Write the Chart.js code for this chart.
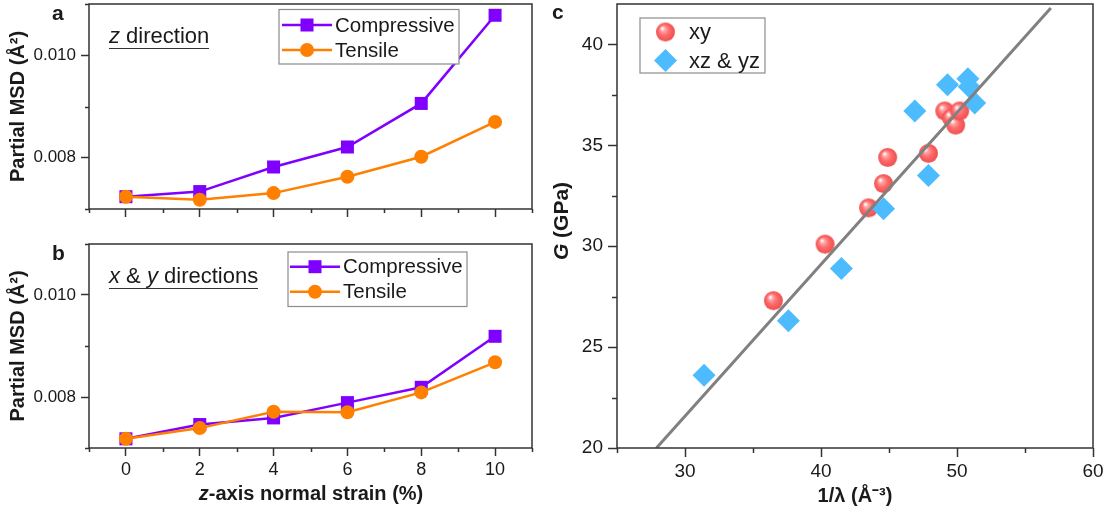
<!DOCTYPE html>
<html>
<head>
<meta charset="utf-8">
<script src="https://cdn.jsdelivr.net/npm/chart.js@4.4.1/dist/chart.umd.min.js"></script>
<style>
  body { margin: 0; background: #fff; }
  #wrap { position: relative; width: 1112px; height: 508px; overflow: hidden;
          font-family: 'Liberation Sans', Arial, sans-serif; color: #1a1a1a; }
  canvas { position: absolute; }
  .lbl { position: absolute; white-space: nowrap; line-height: 1; }
  .ul { border-bottom: 1.5px solid #333; padding-bottom: 0.6px; }
</style>
</head>
<body>
<div id="wrap">
  <canvas id="chartA" width="545" height="232" style="left:0;top:0;width:545px;height:232px"></canvas>
  <canvas id="chartB" width="545" height="276" style="left:0;top:232px;width:545px;height:276px"></canvas>
  <canvas id="chartC" width="567" height="508" style="left:545px;top:0;width:567px;height:508px"></canvas>

  <div class="lbl" style="left:52px;top:2px;font-weight:bold;font-size:21px">a</div>
  <div class="lbl" style="left:52px;top:242px;font-weight:bold;font-size:21px">b</div>
  <div class="lbl" style="left:552px;top:1px;font-weight:bold;font-size:21px">c</div>

  <div class="lbl ul" style="left:109px;top:25px;font-size:22px"><i>z</i> direction</div>
  <div class="lbl ul" style="left:109px;top:265px;font-size:22px"><i>x</i> &amp; <i>y</i> directions</div>

  <div class="lbl" style="left:111px;top:481px;width:400px;text-align:center;line-height:24px;font-weight:bold;font-size:20px"><i>z</i>-axis normal strain (%)</div>
  <div class="lbl" style="left:461px;top:209px;width:200px;text-align:center;line-height:24px;font-weight:bold;font-size:21px;transform:rotate(-90deg)"><i>G</i> (GPa)</div>
</div>

<script>
// panels a, b: partial MSD vs z-axis strain
const strain = [0, 2, 4, 6, 8, 10];
const strainTicks = [0, 2, 4, 6, 8, 10];
const strainMinor = [-1, 1, 3, 5, 7, 9, 11];
const msdTicks = [0.008, 0.010];
const msdMinor = [0.007, 0.009, 0.011];

const zCompressive = [0.00724, 0.00734, 0.00782, 0.00821, 0.00906, 0.01078];
const zTensile     = [0.00724, 0.00718, 0.00731, 0.00763, 0.00802, 0.00870];
const xyCompressive = [0.00718, 0.00746, 0.00759, 0.00789, 0.00819, 0.00919];
const xyTensile     = [0.00718, 0.00739, 0.00771, 0.00770, 0.00809, 0.00868];

// panel c: G vs 1/lambda
const xyInvLambda = [36.5, 40.3, 43.5, 44.6, 44.9, 47.9, 49.1, 49.6, 49.9, 50.2];
const xyG         = [27.3, 30.1, 31.9, 33.1, 34.4, 34.6, 36.7, 36.35, 36.0, 36.7];
const xzInvLambda = [31.4, 37.6, 41.5, 44.6, 47.9, 46.9, 49.3, 50.8, 50.9, 51.3];
const xzG         = [23.6, 26.3, 28.9, 31.85, 33.5, 36.7, 38.0, 38.3, 37.9, 37.1];
const fitInvLambda = [27.9, 56.9];
const fitG         = [20, 41.8];
const lambdaTicks = [30, 40, 50, 60];
const lambdaMinor = [25, 35, 45, 55];
const gTicks = [20, 25, 30, 35, 40];
const gMinor = [22.5, 27.5, 32.5, 37.5];

const purple = '#8000ff';
const orange = '#ff8000';
const blue = '#4cbcff';
const axisColor = '#333';

Chart.defaults.font.family = "'Liberation Sans', Arial, sans-serif";
Chart.defaults.color = '#1a1a1a';

const pts = (xs, ys) => xs.map((x, i) => ({ x, y: ys[i] }));

function makeSphere(r) {
  const s = Math.ceil(r * 2) + 2;
  const c = document.createElement('canvas');
  c.width = c.height = s;
  const g = c.getContext('2d');
  const m = s / 2;
  const grad = g.createRadialGradient(m - r * 0.35, m - r * 0.4, r * 0.05, m, m, r);
  grad.addColorStop(0, '#ffffff');
  grad.addColorStop(0.22, '#ffa3a3');
  grad.addColorStop(0.55, '#ff6a6a');
  grad.addColorStop(1, '#ec5050');
  g.fillStyle = grad;
  g.beginPath();
  g.arc(m, m, r, 0, Math.PI * 2);
  g.fill();
  return c;
}
const sphere = makeSphere(9.5);

function drawMarker(ctx, ds, x, y) {
  const r = ds.pointRadius;
  ctx.fillStyle = ds.backgroundColor;
  if (ds.pointStyle instanceof HTMLCanvasElement) {
    ctx.drawImage(ds.pointStyle, x - ds.pointStyle.width / 2, y - ds.pointStyle.height / 2);
    return;
  }
  ctx.beginPath();
  if (ds.pointStyle === 'rect') {
    const h = r * Math.SQRT1_2;
    ctx.rect(x - h, y - h, 2 * h, 2 * h);
  } else if (ds.pointStyle === 'rectRot') {
    ctx.moveTo(x - r, y); ctx.lineTo(x, y - r); ctx.lineTo(x + r, y); ctx.lineTo(x, y + r); ctx.closePath();
  } else {
    ctx.arc(x, y, r, 0, Math.PI * 2);
  }
  ctx.fill();
}

// frame round the plot area + short minor ticks
const frame = {
  id: 'frame',
  afterDraw(chart, args, o) {
    const { ctx, chartArea: a, scales } = chart;
    ctx.save();
    ctx.strokeStyle = axisColor;
    ctx.lineWidth = 1.5;
    ctx.beginPath();
    (o.minorX || []).forEach(v => {
      const px = Math.round(scales.x.getPixelForValue(v)) + 0.5;
      ctx.moveTo(px, a.bottom); ctx.lineTo(px, a.bottom + o.len);
    });
    (o.minorY || []).forEach(v => {
      const py = Math.round(scales.y.getPixelForValue(v)) + 0.5;
      ctx.moveTo(a.left - o.len, py); ctx.lineTo(a.left, py);
    });
    ctx.stroke();
    ctx.strokeRect(a.left, a.top, a.right - a.left, a.bottom - a.top);
    ctx.restore();
  }
};

const boxLegend = {
  id: 'boxLegend',
  afterDraw(chart, args, o) {
    const ctx = chart.ctx;
    ctx.save();
    ctx.fillStyle = '#fff';
    ctx.fillRect(o.x, o.y, o.w, o.h);
    ctx.strokeStyle = '#8c8c8c';
    ctx.lineWidth = 1.2;
    ctx.strokeRect(o.x, o.y, o.w, o.h);
    o.items.forEach(it => {
      const ds = chart.data.datasets[it.ds];
      if (o.lineX0 !== undefined) {
        ctx.strokeStyle = ds.borderColor;
        ctx.lineWidth = ds.borderWidth;
        ctx.beginPath();
        ctx.moveTo(o.lineX0, it.y); ctx.lineTo(o.lineX1, it.y);
        ctx.stroke();
      }
      drawMarker(ctx, ds, o.markX, it.y);
      ctx.fillStyle = '#1a1a1a';
      ctx.font = o.font;
      ctx.textBaseline = 'middle';
      ctx.fillText(ds.label, o.textX, it.y + 1);
    });
    ctx.restore();
  }
};

const gridOpts = (len) => ({
  display: true, drawOnChartArea: false, drawTicks: true,
  tickLength: len, tickWidth: 1.5, tickColor: axisColor
});

// fixed axis box, no extra room for overhanging labels
const fixBox = (w, h) => s => {
  if (w !== null) s.width = w;
  if (h !== null) s.height = h;
  s.paddingTop = s.paddingBottom = s.paddingLeft = s.paddingRight = 0;
};

function strainChart(id, comp, tens, cfg) {
  return new Chart(document.getElementById(id), {
    type: 'scatter',
    data: {
      datasets: [
        { label: 'Compressive', data: pts(strain, comp), showLine: true,
          borderColor: purple, backgroundColor: purple, borderWidth: 2.5,
          pointStyle: 'rect', pointRadius: 9.2, pointBorderWidth: 0, order: 1 },
        { label: 'Tensile', data: pts(strain, tens), showLine: true,
          borderColor: orange, backgroundColor: orange, borderWidth: 2.5,
          pointStyle: 'circle', pointRadius: 7, pointBorderWidth: 0, order: 0 }
      ]
    },
    options: {
      responsive: false, animation: false, events: [],
      layout: { autoPadding: false, padding: { left: 0, right: 13, top: cfg.top, bottom: 0 } },
      plugins: {
        legend: { display: false }, tooltip: { enabled: false },
        frame: { minorX: strainMinor, minorY: msdMinor, len: 4 },
        boxLegend: cfg.legend
      },
      scales: {
        x: {
          type: 'linear', min: -1, max: 11,
          afterBuildTicks: s => { s.ticks = strainTicks.map(v => ({ value: v })); },
          afterFit: fixBox(null, cfg.xh),
          grid: gridOpts(8), border: { display: false },
          ticks: { display: cfg.showX, autoSkip: false, font: { size: 18 }, padding: 3, callback: v => String(v) }
        },
        y: {
          min: 0.007, max: 0.011,
          afterBuildTicks: s => { s.ticks = msdTicks.map(v => ({ value: v })); },
          afterFit: fixBox(89, null),
          grid: gridOpts(8), border: { display: false },
          ticks: { font: { size: 17 }, padding: 5, callback: v => v.toFixed(3) },
          title: { display: true, text: 'Partial MSD (Å²)', color: '#1a1a1a',
                   font: { size: 20, weight: 'bold' }, padding: { top: 6.5, bottom: 0 } }
        }
      }
    },
    plugins: [frame, boxLegend]
  });
}

strainChart('chartA', zCompressive, zTensile, {
  top: 4, xh: 23, showX: false,
  legend: { x: 279, y: 9.5, w: 180, h: 54.5, lineX0: 282, lineX1: 332, markX: 307, textX: 335,
            font: "20.5px 'Liberation Sans', Arial, sans-serif", items: [{ ds: 0, y: 25 }, { ds: 1, y: 50 }] }
});

strainChart('chartB', xyCompressive, xyTensile, {
  top: 12, xh: 60, showX: true,
  legend: { x: 288, y: 20, w: 179, h: 54.5, lineX0: 290, lineX1: 340, markX: 315, textX: 343,
            font: "20.5px 'Liberation Sans', Arial, sans-serif", items: [{ ds: 0, y: 34.7 }, { ds: 1, y: 59.7 }] }
});

new Chart(document.getElementById('chartC'), {
  type: 'scatter',
  data: {
    datasets: [
      { label: 'xy', data: pts(xyInvLambda, xyG), backgroundColor: '#ff6a6a',
        pointStyle: sphere, pointRadius: 9.5, order: 2 },
      { label: 'xz & yz', data: pts(xzInvLambda, xzG), backgroundColor: blue,
        pointStyle: 'rectRot', pointRadius: 11.5, pointBorderWidth: 0, order: 1 },
      { label: 'fit', data: pts(fitInvLambda, fitG), showLine: true, borderColor: '#808080',
        borderWidth: 3, pointRadius: 0, order: 0 }
    ]
  },
  options: {
    responsive: false, animation: false, events: [],
    layout: { autoPadding: false, padding: { left: 0, right: 19, top: 4, bottom: 0 } },
    plugins: {
      legend: { display: false }, tooltip: { enabled: false },
      frame: { minorX: lambdaMinor, minorY: gMinor, len: 5 },
      boxLegend: { x: 95, y: 18, w: 125, h: 55, markX: 120.5, textX: 144,
                   font: "22px 'Liberation Sans', Arial, sans-serif", items: [{ ds: 0, y: 32 }, { ds: 1, y: 60.5 }] }
    },
    scales: {
      x: {
        type: 'linear', min: 25, max: 60,
        afterBuildTicks: s => { s.ticks = lambdaTicks.map(v => ({ value: v })); },
        afterFit: fixBox(null, 60),
        grid: gridOpts(9), border: { display: false },
        ticks: { autoSkip: false, font: { size: 19 }, padding: 3, callback: v => String(v) },
        title: { display: true, text: '1/λ (Å⁻³)', color: '#1a1a1a',
                 font: { size: 20, weight: 'bold' }, padding: { top: 0, bottom: 0 } }
      },
      y: {
        min: 20, max: 42,
        afterBuildTicks: s => { s.ticks = gTicks.map(v => ({ value: v })); },
        afterFit: fixBox(72, null),
        grid: gridOpts(9), border: { display: false },
        ticks: { font: { size: 19 }, padding: 5, callback: v => String(v) }
      }
    }
  },
  plugins: [frame, boxLegend]
});
</script>
</body>
</html>
